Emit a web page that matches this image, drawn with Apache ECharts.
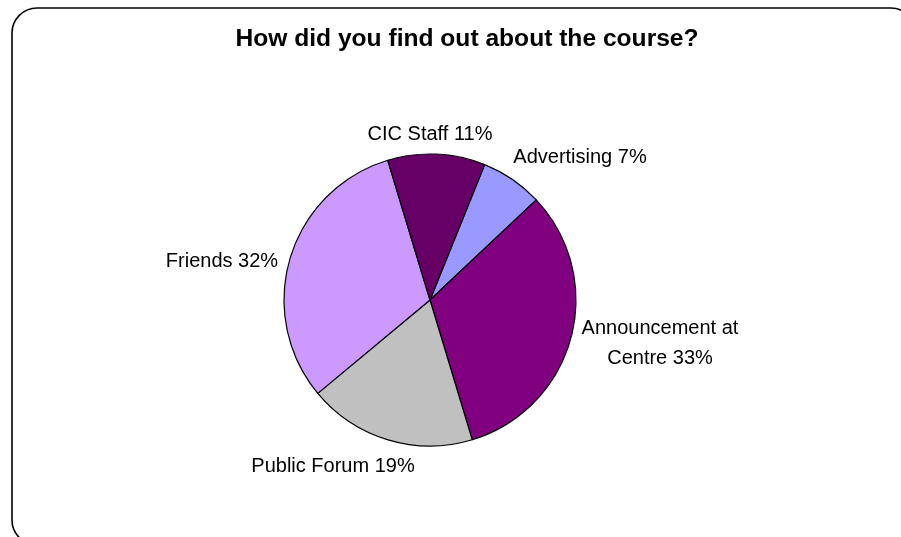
<!DOCTYPE html>
<html>
<head>
<meta charset="utf-8">
<script src="https://cdn.jsdelivr.net/npm/echarts@6/dist/echarts.min.js"></script>
<style>
  html, body { margin: 0; padding: 0; background: #ffffff; }
  #chart { width: 901px; height: 537px; }
</style>
</head>
<body>
<div id="chart"></div>
<script>
// Survey answers: how respondents heard about the course (percent)
const categories = ['Advertising', 'Announcement at\nCentre', 'Public Forum', 'Friends', 'CIC Staff'];
const percents = [7, 33, 19, 32, 11];
const sliceColors = ['#9999FF', '#800080', '#C0C0C0', '#CC99FF', '#660066'];

// Where each slice label sits, relative to the pie centre
const labelOffsets = [
  [150, -143],
  [230, 43],
  [-97, 166],
  [-208, -39],
  [0, -166]
];
const pieCenter = [430, 300];

const chart = echarts.init(document.getElementById('chart'), null, { renderer: 'canvas' });

chart.setOption({
  animation: false,
  backgroundColor: '#ffffff',
  title: {
    text: 'How did you find out about the course?',
    left: 462,
    top: 22,
    textAlign: 'center',
    textStyle: {
      fontFamily: 'Liberation Sans, Arial, sans-serif',
      fontWeight: 'bold',
      fontSize: 24.6,
      color: '#000000'
    }
  },
  graphic: [{
    type: 'rect',
    shape: { x: 12, y: 8, width: 904, height: 537, r: 25 },
    style: { fill: null, stroke: '#000000', lineWidth: 1.6 },
    silent: true,
    z: -1
  }],
  series: [{
    type: 'pie',
    center: pieCenter,
    radius: 146,
    startAngle: 68,
    clockwise: true,
    avoidLabelOverlap: false,
    itemStyle: { borderColor: '#000000', borderWidth: 1.2 },
    label: {
      show: true,
      position: 'outside',
      formatter: p => p.name + ' ' + p.value + '%',
      fontFamily: 'Liberation Sans, Arial, sans-serif',
      fontSize: 20,
      lineHeight: 30,
      color: '#000000',
      align: 'center'
    },
    labelLine: { show: false },
    labelLayout: params => {
      const off = labelOffsets[params.dataIndex];
      return {
        x: pieCenter[0] + off[0],
        y: pieCenter[1] + off[1],
        align: 'center',
        verticalAlign: 'middle'
      };
    },
    data: categories.map((name, i) => ({
      name: name,
      value: percents[i],
      itemStyle: { color: sliceColors[i] }
    }))
  }]
});
</script>
</body>
</html>
